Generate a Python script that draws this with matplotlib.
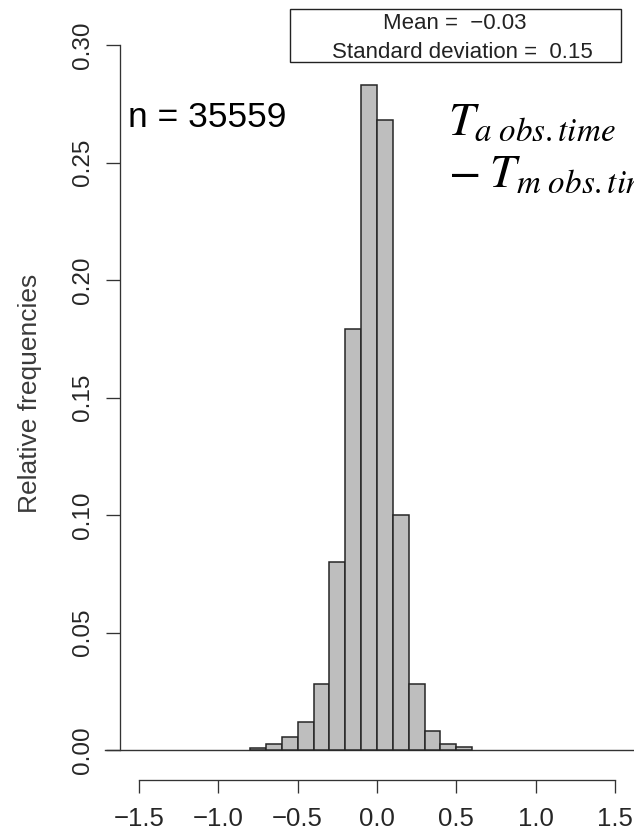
import numpy as np
import matplotlib
matplotlib.use('Agg')
import matplotlib.pyplot as plt
from matplotlib.patches import Rectangle

plt.rcParams['font.family'] = ['Liberation Sans', 'DejaVu Sans']
plt.rcParams['mathtext.fontset'] = 'stix'

# histogram of T_a - T_m (relative frequencies, bins of 0.1)
bin_edges = [-0.8, -0.7, -0.6, -0.5, -0.4, -0.3, -0.2, -0.1,
             0.0, 0.1, 0.2, 0.3, 0.4, 0.5, 0.6]
rel_freq = [0.001, 0.0025, 0.0057, 0.012, 0.028, 0.080, 0.179,
            0.283, 0.268, 0.100, 0.028, 0.008, 0.0025, 0.0012]

x_ticks = [-1.5, -1.0, -0.5, 0.0, 0.5, 1.0, 1.5]
x_ticklabels = ['\u22121.5', '\u22121.0', '\u22120.5', '0.0', '0.5', '1.0', '1.5']
y_ticks = [0.00, 0.05, 0.10, 0.15, 0.20, 0.25, 0.30]
y_ticklabels = ['0.00', '0.05', '0.10', '0.15', '0.20', '0.25', '0.30']

n_obs = 35559
mean_val = '\u22120.03'
sd_val = '0.15'

# pixel layout of the original (from top-left)
W, H = 634, 832
x0_px, x1_px = 139, 615      # -1.5 and 1.5
y0_px, y1_px = 750, 45       # 0.00 and 0.30
sx = (x1_px - x0_px) / 3.0
sy = (y0_px - y1_px) / 0.30

fig = plt.figure(figsize=(W / 100, H / 100), dpi=100)
ax = fig.add_axes([0, 0, 1, 1])
ax.set_xlim(-1.5 - x0_px / sx, -1.5 + (W - x0_px) / sx)
ax.set_ylim(-(H - y0_px) / sy, y0_px / sy)

edges = np.array(bin_edges)
ax.bar(edges[:-1], rel_freq, width=np.diff(edges), align='edge',
       color='#bebebe', edgecolor='#262626', linewidth=1.1, zorder=3)
ax.axhline(0, xmin=105 / W, xmax=1, color='#333333', linewidth=1.0, zorder=2)

for s in ['top', 'right']:
    ax.spines[s].set_visible(False)
ax.spines['left'].set_position(('data', -1.5 - (x0_px - 119.5) / sx))
ax.spines['left'].set_bounds(0, 0.30)
ax.spines['bottom'].set_position(('data', -(780 - y0_px) / sy))
ax.spines['bottom'].set_bounds(-1.5, 1.5)
for s in ['left', 'bottom']:
    ax.spines[s].set_linewidth(0.95)
    ax.spines[s].set_color('#333333')

ax.set_xticks(x_ticks)
ax.set_xticklabels(x_ticklabels)
ax.set_yticks(y_ticks)
ax.set_yticklabels(y_ticklabels, rotation=90, va='center')
ax.tick_params(axis='y', direction='out', length=10, width=0.95, color='#333333',
               labelsize=17.5, pad=8, labelcolor='#262626')
ax.tick_params(axis='x', direction='out', length=9.1, width=0.95, color='#333333',
               labelsize=18.5, pad=10, labelcolor='#262626')

ax.set_ylabel('Relative frequencies', fontsize=19, color='#3a3a3a')
ax.yaxis.set_label_coords(42 / W, 1 - 393 / H)

fig.text(128 / W, 1 - 127 / H, 'n = %d' % n_obs, fontsize=25.5,
         va='baseline', ha='left')

# summary box
fig.patches.append(Rectangle((290 / W, 1 - 62 / H), 331 / W, 53 / H,
                             transform=fig.transFigure, fill=False,
                             edgecolor='#222222', linewidth=1.0))
fig.text(455 / W, 1 - 29 / H, 'Mean =  ' + mean_val, fontsize=16,
         ha='center', va='baseline', color='#222222')
fig.text(462 / W, 1 - 57.5 / H, 'Standard deviation =  ' + sd_val, fontsize=16,
         ha='center', va='baseline', color='#222222')

fig.text(448 / W, 1 - 135 / H, r'$T_{a\ obs.time}$', fontsize=34,
         ha='left', va='baseline')
fig.text(448 / W, 1 - 187 / H, r'$-\;T_{m\ obs.time}$', fontsize=34,
         ha='left', va='baseline')

plt.savefig('out.png', dpi=100)
